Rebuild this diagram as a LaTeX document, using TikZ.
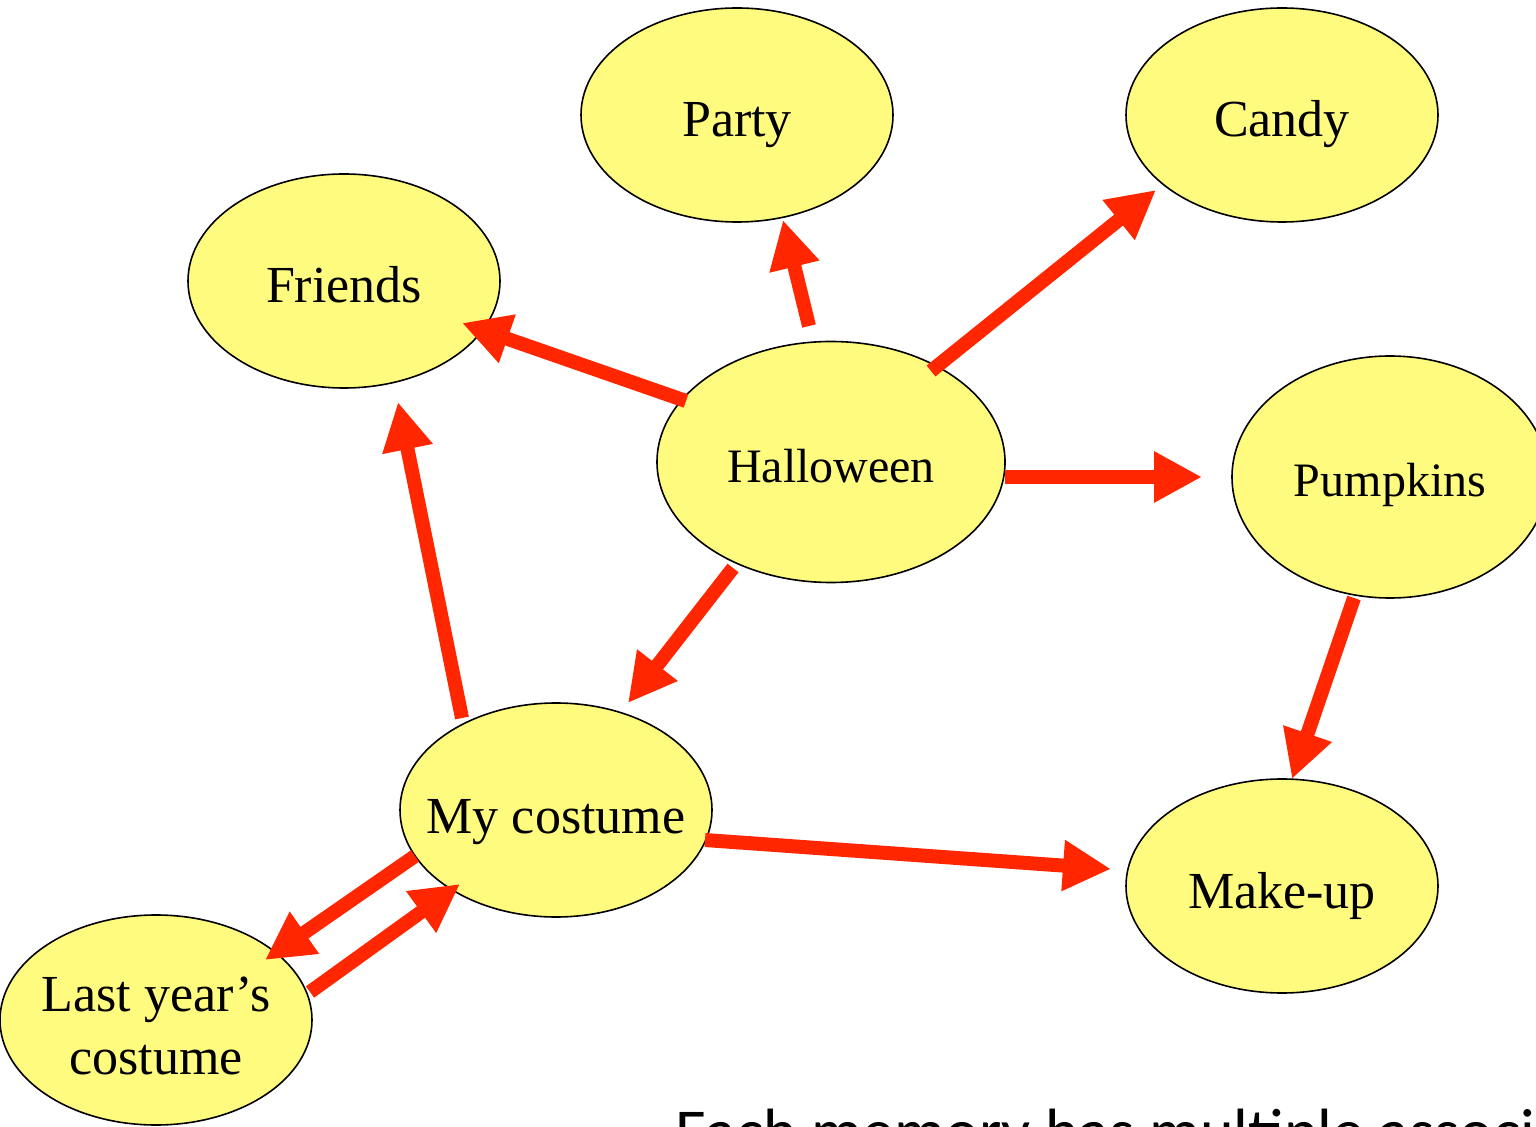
\documentclass[tikz,border=0pt]{standalone}
\usepackage{fontspec}
\setmainfont{Liberation Serif}
\newfontfamily\calibfont{Carlito}
\usetikzlibrary{shapes.geometric,arrows.meta,calc}
\definecolor{bubfill}{RGB}{255,251,127}
\definecolor{arrred}{RGB}{255,38,0}
\begin{document}
\begin{tikzpicture}[x=0.5pt,y=-0.5pt,
  bub/.style={ellipse,draw=black,line width=0.8pt,fill=bubfill,minimum width=156pt,minimum height=107pt,inner sep=0pt},
  txt/.style={font=\fontsize{26}{31.5}\selectfont,align=center,inner sep=0pt,anchor=base},
  stxt/.style={font=\fontsize{24}{29}\selectfont,inner sep=0pt,anchor=base},
  arr/.style={draw=arrred,line width=7pt,-{Triangle[length=24pt,width=24pt]}}]
\useasboundingbox (0,0) rectangle (1536,1127);
% bubbles
\node[bub] (par) at (737,115) {};
\node[bub] (can) at (1282,115) {};
\node[bub] (fri) at (344,281) {};
\node[bub,minimum width=174pt,minimum height=120.5pt] (hal) at (831,462) {};
\node[bub,minimum width=158pt,minimum height=121pt] (pum) at (1390,477) {};
\node[bub] (cos) at (556,810) {};
\node[bub] (mak) at (1282,886) {};
\node[bub,minimum height=105pt] (las) at (156,1020) {};
% texts
\node[txt] (part) at (737,137) {Party};
\node[txt] (cant) at (1282,137) {Candy};
\node[txt] (frit) at (344,303) {Friends};
\node[stxt] (halt) at (831,483) {Halloween};
\node[stxt] (pumt) at (1390,497) {Pumpkins};
\node[txt] (cost) at (556,833) {My costume};
\node[txt] (makt) at (1282,908) {Make-up};
\node[txt] (last) at (156,1074) {Last year’s\\costume};
% arrows
\draw[arr] ($(hal)+(-145,-61)$) -- ($(fri)+(118,42)$);
\draw[arr] ($(hal)+(-22,-136)$) -- ($(par)+(46,105)$);
\draw[arr] ($(hal)+(100,-91)$) -- ($(can)+(-126,75)$);
\draw[arr] ($(hal)+(174,15)$) -- ($(pum)+(-188,0)$);
\draw[arr] ($(hal)+(-98,106)$) -- ($(cos)+(72,-107)$);
\draw[arr] ($(cos)+(-94,-92)$) -- ($(fri)+(54,121)$);
\draw[arr] ($(pum)+(-36,121)$) -- ($(mak)+(10,-107)$);
\draw[arr] ($(cos)+(149,30)$) -- ($(mak)+(-171,-17)$);
\draw[arr] ($(cos)+(-141,46)$) -- ($(las)+(109,-60)$);
\draw[arr] ($(las)+(154,-28)$) -- ($(cos)+(-96,74)$);
% caption (cut off at the bottom, as in the reference)
\node[font=\calibfont\fontsize{32}{38}\selectfont,anchor=base west,inner sep=0pt] (cap) at (675,1153) {Each memory has multiple associations};
\end{tikzpicture}
\end{document}
